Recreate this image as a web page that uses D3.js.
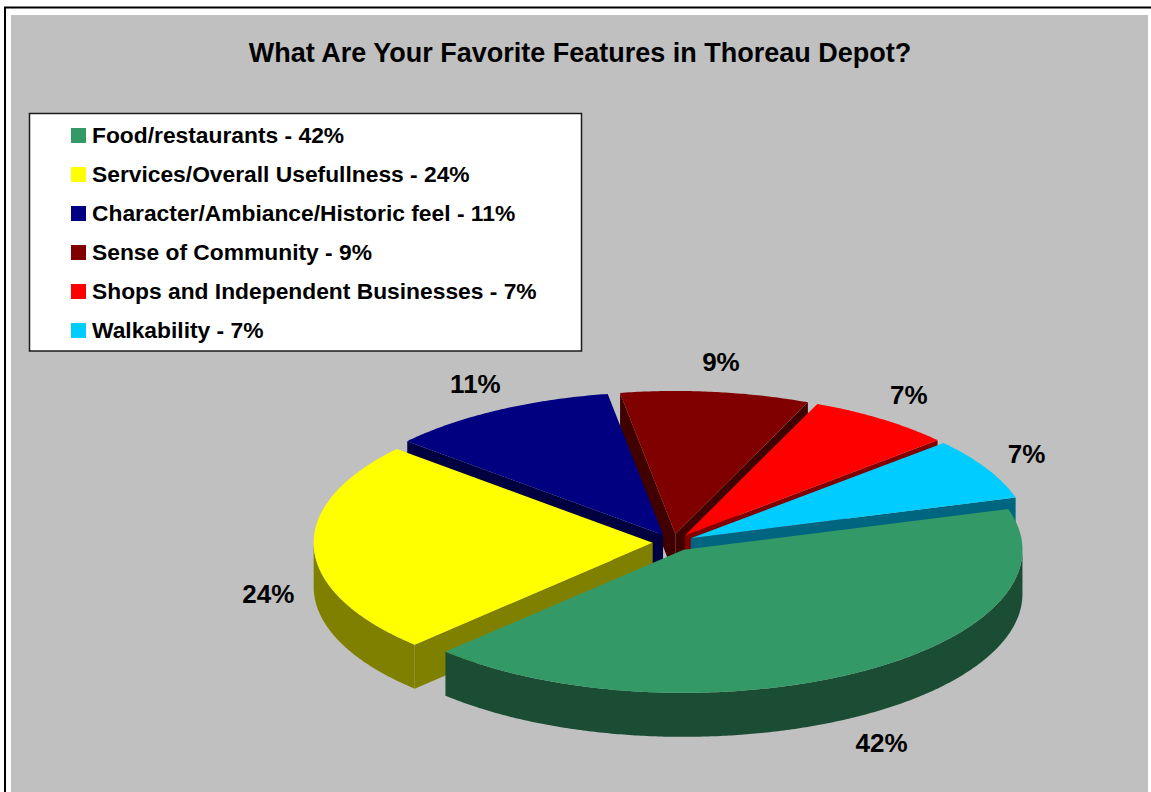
<!DOCTYPE html>
<html>
<head>
<meta charset="utf-8">
<script src="https://cdn.jsdelivr.net/npm/d3@7"></script>
<style>
  html, body { margin: 0; padding: 0; background: #ffffff; }
  svg { display: block; }
  text { font-family: "Liberation Sans", Arial, sans-serif; font-weight: bold; fill: #000; }
</style>
</head>
<body>
<svg id="chart" width="1151" height="792"></svg>
<script>
// Survey results: favorite features in Thoreau Depot
const categories = [
  "Food/restaurants",
  "Services/Overall Usefullness",
  "Character/Ambiance/Historic feel",
  "Sense of Community",
  "Shops and Independent Businesses",
  "Walkability"
];
const percents = [42, 24, 11, 9, 7, 7];
const topColors  = ["#339966", "#FFFF00", "#000080", "#800000", "#FF0000", "#00CCFF"];
const sideColors = ["#1B4D35", "#808000", "#000040", "#400000", "#800000", "#006680"];
const titleText = "What Are Your Favorite Features in Thoreau Depot?";

const svg = d3.select("#chart");
const W = 1151, H = 792;

// frame and plot background
svg.append("rect").attr("x", 0).attr("y", 0).attr("width", W).attr("height", H).attr("fill", "#ffffff");
svg.append("rect").attr("x", 5).attr("y", 7.5).attr("width", W + 20).attr("height", H + 20)
  .attr("fill", "none").attr("stroke", "#000").attr("stroke-width", 2);
svg.append("rect").attr("x", 11).attr("y", 15).attr("width", 1137).attr("height", H)
  .attr("fill", "#C0C0C0");

// title
svg.append("text").attr("x", 580).attr("y", 62).attr("text-anchor", "middle")
  .style("font-size", "27px").text(titleText);

// legend
const legend = svg.append("g");
legend.append("rect").attr("x", 29.5).attr("y", 113.5).attr("width", 552).attr("height", 237.5)
  .attr("fill", "#fff").attr("stroke", "#1a1a1a").attr("stroke-width", 1.5);
const rowScale = d3.scaleLinear().domain([0, 1]).range([0, 39]);
const rows = legend.selectAll("g.row").data(categories).join("g")
  .attr("class", "row")
  .attr("transform", (d, i) => `translate(0,${rowScale(i)})`);
rows.append("rect").attr("x", 71).attr("y", 128).attr("width", 15).attr("height", 15)
  .attr("fill", (d, i) => topColors[i]);
rows.append("text").attr("x", 92).attr("y", 143).style("font-size", "22.8px")
  .text((d, i) => `${d} - ${percents[i]}%`);

// 3D exploded pie geometry
const cx = 673, cy = 542.5, rx = 339, ry = 143, depth = 44, explode = 0.06;
const startDeg = 73.4;
const pie = d3.pie().sort(null).value(d => d)
  .startAngle(startDeg * Math.PI / 180)
  .endAngle(startDeg * Math.PI / 180 + 2 * Math.PI);
const arcs = pie(percents).map((d, i) => {
  const mid = (d.startAngle + d.endAngle) / 2;
  return Object.assign(d, {
    i, mid,
    ox: explode * rx * Math.sin(mid),
    oy: -explode * ry * Math.cos(mid)
  });
});

const pt = (d, a, k, dz) => [
  cx + d.ox + k * rx * Math.sin(a),
  cy + d.oy - k * ry * Math.cos(a) + (dz || 0)
];
const arcPts = (d, a0, a1, dz) => {
  const n = Math.max(2, Math.ceil(Math.abs(a1 - a0) / (Math.PI / 360)));
  return d3.range(n + 1).map(j => pt(d, a0 + (a1 - a0) * j / n, 1, dz));
};
const poly = d3.line().curve(d3.curveLinearClosed);

// back slices first, front slices last
const order = arcs.slice().sort((a, b) => Math.cos(b.mid) - Math.cos(a.mid));
const pieG = svg.append("g");

order.forEach(d => {
  const g = pieG.append("g");
  const side = sideColors[d.i], top = topColors[d.i];
  const c = pt(d, 0, 0), cb = pt(d, 0, 0, depth);

  // radial cut faces facing the viewer
  if (Math.sin(d.startAngle) < 0) {
    const p = pt(d, d.startAngle, 1), pb = pt(d, d.startAngle, 1, depth);
    g.append("path").attr("d", poly([c, p, pb, cb])).attr("fill", side);
  }
  if (Math.sin(d.endAngle) > 0) {
    const p = pt(d, d.endAngle, 1), pb = pt(d, d.endAngle, 1, depth);
    g.append("path").attr("d", poly([c, p, pb, cb])).attr("fill", side);
  }

  // outer rim on the front half of the ellipse
  [[Math.PI / 2, 3 * Math.PI / 2], [Math.PI / 2 + 2 * Math.PI, 3 * Math.PI / 2 + 2 * Math.PI]]
    .forEach(([f0, f1]) => {
      const a0 = Math.max(d.startAngle, f0), a1 = Math.min(d.endAngle, f1);
      if (a1 > a0) {
        const upper = arcPts(d, a0, a1, 0);
        const lower = arcPts(d, a0, a1, depth).reverse();
        g.append("path").attr("d", poly(upper.concat(lower))).attr("fill", side);
      }
    });

  // top face
  g.append("path").attr("d", poly([c].concat(arcPts(d, d.startAngle, d.endAngle, 0))))
    .attr("fill", top);
});

// percentage labels outside the slices
const lrx = 405, lry = 182;
svg.append("g").selectAll("text").data(arcs).join("text")
  .attr("x", d => cx + lrx * Math.sin(d.mid))
  .attr("y", d => cy - lry * Math.cos(d.mid) + (Math.cos(d.mid) < 0 ? depth : 0))
  .attr("dy", "0.35em")
  .attr("text-anchor", "middle")
  .style("font-size", "26px")
  .text(d => `${d.data}%`);
</script>
</body>
</html>
